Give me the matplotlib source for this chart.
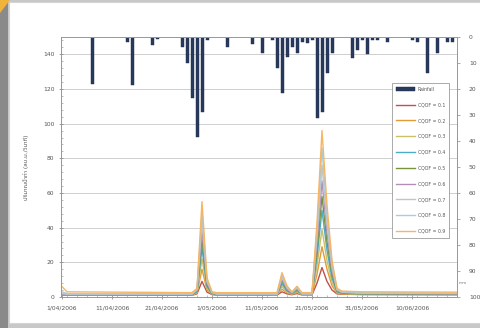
import numpy as np
import matplotlib
matplotlib.use('Agg')
import matplotlib.pyplot as plt
import matplotlib.dates as mdates
from matplotlib import font_manager
from matplotlib.patches import Rectangle, Polygon
from matplotlib.ticker import MultipleLocator, FixedLocator

# --- data (day 0 = 1 April 2006) ---
start = np.datetime64('2006-04-01')

rain_days = [6, 13, 14, 18, 19, 24, 25, 26, 27, 28, 29, 33, 38, 40, 42,
             43, 44, 45, 46, 47, 48, 49, 50, 51, 52, 53, 54,
             58, 59, 60, 61, 62, 63, 65, 70, 71, 73, 75, 77, 78]
rain_mm = [18, 2, 18.5, 3, 0.8, 4, 10, 23.5, 38.5, 29, 1, 4, 2.5, 6, 1,
           12, 21.6, 7.8, 4, 6, 2, 2.2, 1, 31, 29, 14, 6,
           8, 5, 1, 6.5, 1, 1, 2, 1, 2, 14, 6, 2, 2]

flow_days = [0, 1, 26, 27, 28, 29, 30, 31, 43, 44, 45, 46, 47, 48,
             50, 51, 52, 53, 54, 55, 56, 60, 79]
cqof_01 = [1.0, 1.0, 1.0, 1.8, 9, 2.8, 1.4, 1.1, 1.1, 3.0, 1.8, 1.3, 2.0, 1.2,
           1.2, 8, 17, 9, 4, 1.8, 1.6, 1.4, 1.3]
cqof_02 = [1.1, 1.1, 1.1, 2.2, 16, 4, 1.6, 1.2, 1.2, 4.5, 2.4, 1.5, 2.6, 1.3,
           1.3, 13, 29, 16, 6.5, 2.2, 1.8, 1.5, 1.4]
cqof_03 = [1.2, 1.2, 1.2, 2.6, 22, 5, 1.8, 1.3, 1.3, 6, 3, 1.7, 3.2, 1.4,
           1.4, 18, 39, 21, 8.5, 2.6, 2.0, 1.7, 1.5]
cqof_04 = [1.3, 1.3, 1.3, 3.0, 28, 6, 2.0, 1.4, 1.4, 7.5, 3.6, 1.9, 3.8, 1.5,
           1.5, 23, 50, 27, 11, 3.0, 2.2, 1.8, 1.6]
cqof_05 = [1.4, 1.4, 1.4, 3.4, 33, 7, 2.2, 1.5, 1.5, 9, 4.2, 2.1, 4.3, 1.6,
           1.6, 27, 58, 32, 13, 3.4, 2.4, 1.9, 1.7]
cqof_06 = [1.6, 1.5, 1.5, 3.8, 38, 8, 2.4, 1.6, 1.6, 10, 4.6, 2.3, 4.8, 1.7,
           1.7, 31, 67, 37, 15, 3.8, 2.6, 2.0, 1.8]
cqof_07 = [2.0, 1.6, 1.6, 4.2, 44, 9, 2.6, 1.7, 1.7, 11.5, 5.2, 2.5, 5.3, 1.8,
           1.8, 35, 76, 42, 17, 4.2, 2.8, 2.2, 2.0]
cqof_08 = [3.0, 2.0, 1.8, 4.6, 49, 10, 2.8, 1.8, 1.8, 13, 5.8, 2.7, 5.7, 1.9,
           1.9, 39, 86, 47, 19, 4.6, 3.0, 2.4, 2.2]
cqof_09 = [6.0, 3.0, 2.5, 5.0, 55, 11, 3.0, 2.5, 2.5, 14, 6.4, 3.0, 6.2, 2.5,
           2.5, 43, 96, 53, 21, 5.0, 3.4, 3.0, 2.8]

series_labels = ['CQOF = 0.1', 'CQOF = 0.2', 'CQOF = 0.3', 'CQOF = 0.4', 'CQOF = 0.5',
                 'CQOF = 0.6', 'CQOF = 0.7', 'CQOF = 0.8', 'CQOF = 0.9']
series_colors = ['#c0504d', '#e39b36', '#c9c06a', '#4bacc6', '#77933c',
                 '#b28fb8', '#c4c4c4', '#a9cbdb', '#f5b563']

tick_days = [0, 10, 20, 30, 40, 50, 60, 70]
tick_labels = ['1/04/2006', '11/04/2006', '21/04/2006', '1/05/2006',
               '11/05/2006', '21/05/2006', '31/05/2006', '10/06/2006']

ylabel_text = 'ปริมาณน้ำท่า (ลบ.ม./วินาที)'

# --- fonts ---
names = {f.name for f in font_manager.fontManager.ttflist}
thai = [n for n in ['Noto Sans Thai', 'Noto Serif Thai', 'Loma', 'Garuda', 'Norasi',
                    'Kinnari', 'Waree', 'Sawasdee', 'Tlwg Typo', 'FreeSans', 'FreeSerif']
        if n in names]
plt.rcParams['font.family'] = ['DejaVu Sans'] + thai


def to_num(days):
    return mdates.date2num(start + np.array(days, dtype='timedelta64[D]'))


W, H = 481, 328
fig = plt.figure(figsize=(W / 100, H / 100), dpi=100, facecolor='#c8c8c8')


def box(x0, y0, x1, y1, **kw):
    fig.add_artist(Rectangle((x0 / W, 1 - y1 / H), (x1 - x0) / W, (y1 - y0) / H,
                             transform=fig.transFigure, zorder=-5, **kw))


box(9, 2, 481, 323, facecolor='white', edgecolor='#d4d4d4', linewidth=0.8)
box(0, 0, 8, 328, facecolor='#8a8a8a', edgecolor='none')
fig.add_artist(Polygon([(0, 1), (10 / W, 1), (0, 1 - 13 / H)], closed=True,
                       transform=fig.transFigure, facecolor='#f0b43c',
                       edgecolor='none', zorder=-4))

ax = fig.add_axes([61 / W, 1 - 297 / H, (457 - 61) / W, (297 - 37) / H])
ax2 = ax.twinx()

flow_x = to_num(flow_days)
all_series = [cqof_01, cqof_02, cqof_03, cqof_04, cqof_05,
              cqof_06, cqof_07, cqof_08, cqof_09]
handles = []
for vals, lab, col in zip(all_series, series_labels, series_colors):
    h, = ax.plot(flow_x, vals, color=col, lw=1.0, label=lab)
    handles.append(h)

bars = ax2.bar(to_num(rain_days), rain_mm, width=0.6, color='#283a5e',
               edgecolor='#1c2a48', linewidth=0.3, label='Rainfall')

x0 = to_num([0])[0]
ax.set_xlim(x0 - 0.2, x0 + 79.0)
ax.set_ylim(0, 150)
ax2.set_ylim(100, 0)

ax.xaxis.set_major_locator(FixedLocator(to_num(tick_days)))
ax.set_xticklabels(tick_labels)
ax.xaxis.set_minor_locator(MultipleLocator(2))
ax.yaxis.set_major_locator(FixedLocator([0, 20, 40, 60, 80, 100, 120, 140]))
ax.yaxis.set_minor_locator(MultipleLocator(4))
ax2.yaxis.set_major_locator(MultipleLocator(10))

ax.grid(axis='y', which='major', color='#cfcfcf', lw=0.7)
ax.set_axisbelow(True)

tc = '#555555'
ax.tick_params(axis='both', which='major', labelsize=4.3, colors='#777777',
               labelcolor=tc, length=2.5, width=0.5, direction='inout')
ax.tick_params(axis='both', which='minor', length=1.5, width=0.4,
               colors='#888888', direction='in')
ax.tick_params(axis='x', which='major', pad=5)
ax2.tick_params(axis='y', labelsize=4.3, colors='#888888', labelcolor=tc,
                length=2.5, width=0.5, direction='out', pad=6)

for a in (ax, ax2):
    for s in a.spines.values():
        s.set_color('#9a9a9a')
        s.set_linewidth(0.7)
ax.spines['left'].set_color('#666666')

ax.set_ylabel(ylabel_text, fontsize=4.3, color=tc, labelpad=10)
fig.text(463 / W, 1 - 283 / H, 'mm', fontsize=3, color='#777777',
         ha='center', va='center')

leg = ax2.legend([bars] + handles, ['Rainfall'] + series_labels,
                 loc='upper left', bbox_to_anchor=(0.835, 0.825),
                 fontsize=3.3, frameon=True, fancybox=False,
                 edgecolor='#888888', framealpha=1, handlelength=4.2,
                 handleheight=0.8, labelspacing=2.35, borderpad=0.9,
                 handletextpad=0.6, borderaxespad=0)
leg.get_frame().set_linewidth(0.5)
for t in leg.get_texts():
    t.set_color('#555555')

fig.savefig('out.png', dpi=100, facecolor=fig.get_facecolor())
